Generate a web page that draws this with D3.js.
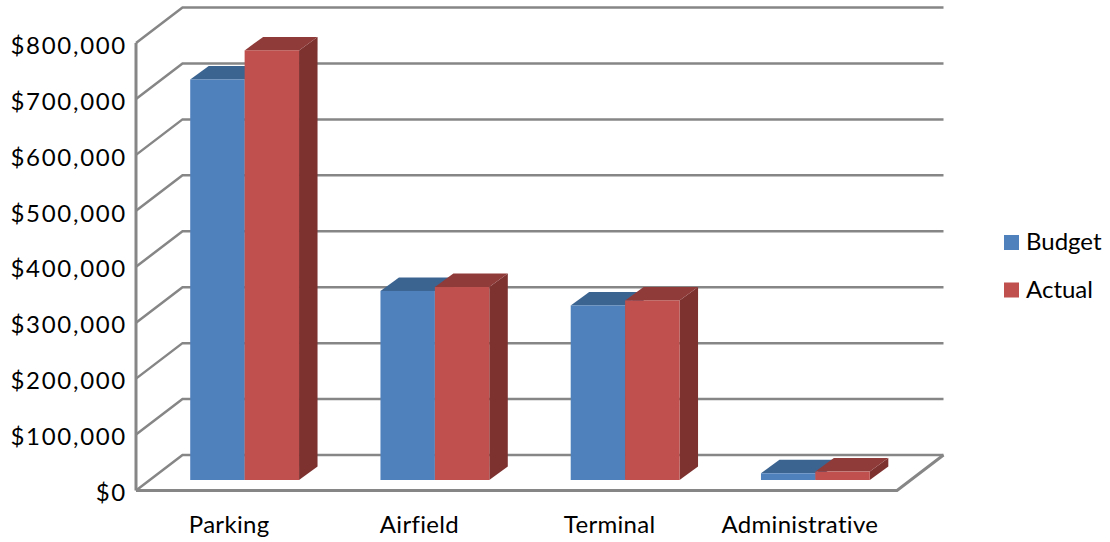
<!DOCTYPE html>
<html>
<head>
<meta charset="utf-8">
<title>Budget vs Actual</title>
<script src="https://d3js.org/d3.v7.min.js"></script>
<style>
  html, body { margin: 0; background: #fff; }
  svg { display: block; }
  text { font-family: Lato, "Open Sans", sans-serif; fill: #000; font-variant-ligatures: none; }
</style>
</head>
<body>
<div id="chart"></div>
<script>
const categories = ["Parking", "Airfield", "Terminal", "Administrative"];
const seriesNames = ["Budget", "Actual"];
const budget = [716000, 338000, 312000, 12000];
const actual = [768000, 345000, 321000, 15000];
const yTicks = [0, 100000, 200000, 300000, 400000, 500000, 600000, 700000, 800000];

const w = 1110, h = 542;
const fontSize = 24;
const gridColor = "#868686";
const colors = {
  Budget: { front: "#4f81bd", top: "#3c6491", side: "#2f5078" },
  Actual: { front: "#c0504d", top: "#8f3b39", side: "#7d3230" }
};

// front plane of the box, the back wall is shifted by (wallDx, wallDy)
const floorLeft = 136, floorRight = 897;
const wallDx = 46.5, wallDy = -35.5;
// bars stand part way into the box
const barShiftX = 13.5, barShiftY = -10.5;
const depthX = 18.5, depthY = -13.5;

const svg = d3.select("#chart").append("svg").attr("width", w).attr("height", h);

const y = d3.scaleLinear().domain([0, 800000]).range([490.5, 43]);
const x = d3.scaleBand().domain(categories).range([floorLeft, floorRight])
  .paddingInner(0.428).paddingOuter(0.214);
const xSeries = d3.scaleBand().domain(seriesNames).range([0, x.bandwidth()]);

// grid: side wall diagonal and back wall line for each tick
const grid = svg.append("g").attr("fill", "none").attr("stroke", gridColor).attr("stroke-width", 2.5);
grid.selectAll("path.wall")
  .data(yTicks)
  .enter()
  .append("path")
  .attr("class", "wall")
  .attr("d", d => {
    const p = d3.path();
    p.moveTo(floorLeft, y(d));
    p.lineTo(floorLeft + wallDx, y(d) + wallDy);
    p.lineTo(floorRight + wallDx, y(d) + wallDy);
    return p.toString();
  });

// floor
const floor = d3.path();
floor.moveTo(floorRight + wallDx, y(0) + wallDy);
floor.lineTo(floorRight, y(0));
floor.lineTo(floorLeft, y(0));
grid.append("path").attr("d", floor.toString()).attr("stroke-width", 3);
grid.append("line")
  .attr("x1", floorLeft).attr("x2", floorLeft)
  .attr("y1", y(800000)).attr("y2", y(0))
  .attr("stroke-width", 3);

// bars
const rows = categories.flatMap((c, i) => [
  { cat: c, name: "Budget", value: budget[i] },
  { cat: c, name: "Actual", value: actual[i] }
]);

const bar = svg.selectAll("g.bar")
  .data(rows)
  .enter()
  .append("g")
  .attr("class", "bar")
  .attr("transform", d => `translate(${x(d.cat) + xSeries(d.name) + barShiftX},${barShiftY})`);

function poly(pts) { return pts.map(p => p.join(",")).join(" "); }

bar.append("polygon")
  .attr("fill", d => colors[d.name].side)
  .attr("points", d => {
    const r = xSeries.bandwidth();
    return poly([[r, y(d.value)], [r + depthX, y(d.value) + depthY], [r + depthX, y(0) + depthY], [r, y(0)]]);
  });

bar.append("polygon")
  .attr("fill", d => colors[d.name].top)
  .attr("points", d => {
    const r = xSeries.bandwidth();
    return poly([[0, y(d.value)], [depthX, y(d.value) + depthY], [r + depthX, y(d.value) + depthY], [r, y(d.value)]]);
  });

bar.append("rect")
  .attr("fill", d => colors[d.name].front)
  .attr("x", 0)
  .attr("y", d => y(d.value))
  .attr("width", xSeries.bandwidth())
  .attr("height", d => y(0) - y(d.value));

// axes
const yAxis = d3.axisLeft(y).tickValues(yTicks).tickSize(0).tickPadding(0)
  .tickFormat(d => "$" + d3.format(",")(d));
svg.append("g")
  .attr("transform", "translate(127,2.5)")
  .call(yAxis)
  .call(g => g.select(".domain").remove())
  .call(g => g.selectAll("text").style("font-size", fontSize + "px").style("font-family", null).style("letter-spacing", "1.7px"));

const xAxis = d3.axisBottom(x).tickSize(0).tickPadding(0);
svg.append("g")
  .attr("transform", "translate(-2,516)")
  .call(xAxis)
  .call(g => g.select(".domain").remove())
  .call(g => g.selectAll("text").style("font-size", fontSize + "px").style("font-family", null).style("letter-spacing", "0.3px"));

// legend
const legendY = d3.scalePoint().domain(seriesNames).range([242.5, 290]);
const legend = svg.selectAll("g.legend")
  .data(seriesNames)
  .enter()
  .append("g")
  .attr("class", "legend")
  .attr("transform", d => `translate(1004,${legendY(d)})`);
legend.append("rect")
  .attr("y", -7.5)
  .attr("width", 15)
  .attr("height", 15)
  .attr("fill", d => colors[d].front);
legend.append("text")
  .attr("x", 22)
  .attr("y", -0.5)
  .attr("dy", "0.35em")
  .style("font-size", fontSize + "px")
  .text(d => d);
</script>
</body>
</html>
